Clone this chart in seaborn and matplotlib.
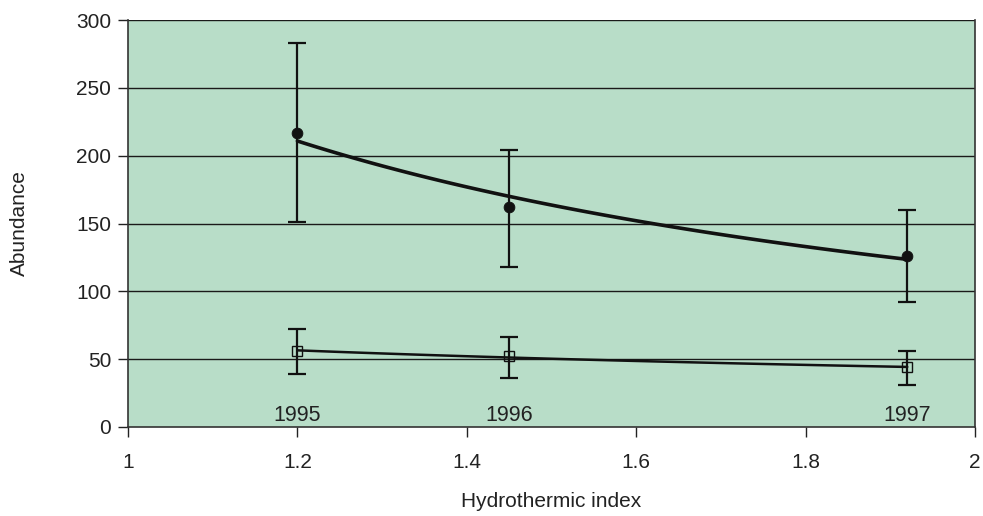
import numpy as np
import pandas as pd
import matplotlib
matplotlib.use('Agg')
import matplotlib.pyplot as plt
import seaborn as sns

# Data
years = ['1995', '1996', '1997']
hydro_index = [1.2, 1.45, 1.92]
abund_high = [217, 162, 126]
high_lo = [151, 118, 92]
high_hi = [283, 204, 160]
abund_low = [56, 52, 44]
low_lo = [39, 36, 31]
low_hi = [72, 66, 56]

df = pd.DataFrame({'year': years, 'x': hydro_index,
                   'high': abund_high, 'low': abund_low})

sns.set_style('white')
plt.rcParams['font.family'] = ['Liberation Sans', 'DejaVu Sans']

fig = plt.figure(figsize=(9.83, 5.16), dpi=100)
ax = fig.add_axes([0.1302, 0.1725, 0.8617, 0.7887])
ax.set_facecolor('#b8ddc8')

# horizontal grid lines
for v in range(50, 301, 50):
    ax.axhline(v, color='#1a1a1a', lw=1.0, zorder=1)


# power trendline (y = a * x^b), like the spreadsheet one
def power_trend(xs, ys):
    b, ln_a = np.polyfit(np.log(xs), np.log(ys), 1)
    xx = np.linspace(min(xs), max(xs), 100)
    return pd.DataFrame({'x': xx, 'y': np.exp(ln_a) * xx ** b})


sns.lineplot(data=power_trend(hydro_index, abund_high), x='x', y='y',
             color='#111111', lw=2.6, ax=ax, zorder=2)
sns.lineplot(data=power_trend(hydro_index, abund_low), x='x', y='y',
             color='#111111', lw=1.8, ax=ax, zorder=2)

# error bars
hi = np.array(abund_high)
lo = np.array(abund_low)
ax.errorbar(hydro_index, hi, yerr=[hi - np.array(high_lo), np.array(high_hi) - hi],
            fmt='none', ecolor='#111111', elinewidth=1.6, capsize=6.5, capthick=1.6, zorder=3)
ax.errorbar(hydro_index, lo, yerr=[lo - np.array(low_lo), np.array(low_hi) - lo],
            fmt='none', ecolor='#111111', elinewidth=1.6, capsize=6.5, capthick=1.6, zorder=3)

# markers
sns.scatterplot(data=df, x='x', y='high', marker='o', s=60, color='#111111',
                edgecolor='#111111', ax=ax, zorder=4)
ax.plot(df['x'], df['low'], 's', ms=7, mfc='none', mec='#111111', mew=1.0, zorder=4)

# year labels
for xv, yr in zip(hydro_index, years):
    ax.text(xv, 4.5, yr, ha='center', va='baseline', fontsize=15.5, color='#222222')

ax.set_xlim(1, 2)
ax.set_ylim(0, 300)
ax.set_xticks([1, 1.2, 1.4, 1.6, 1.8, 2])
ax.set_xticklabels(['1', '1.2', '1.4', '1.6', '1.8', '2'])
ax.set_yticks(range(0, 301, 50))
ax.tick_params(axis='both', direction='out', length=7, width=1, color='#222222',
               labelsize=15, labelcolor='#222222', bottom=True, left=True)
ax.tick_params(axis='x', pad=12)
ax.tick_params(axis='y', pad=5)

for s in ['left', 'bottom', 'right']:
    ax.spines[s].set_color('#333333')
    ax.spines[s].set_linewidth(1.2)
ax.spines['top'].set_visible(False)

ax.set_xlabel('Hydrothermic index', fontsize=15, color='#222222')
ax.xaxis.set_label_coords(0.5, -0.16)
ax.set_ylabel('Abundance', fontsize=15, color='#222222')
ax.yaxis.set_label_coords(-0.117, 0.5)

fig.savefig('out.png', dpi=100)
